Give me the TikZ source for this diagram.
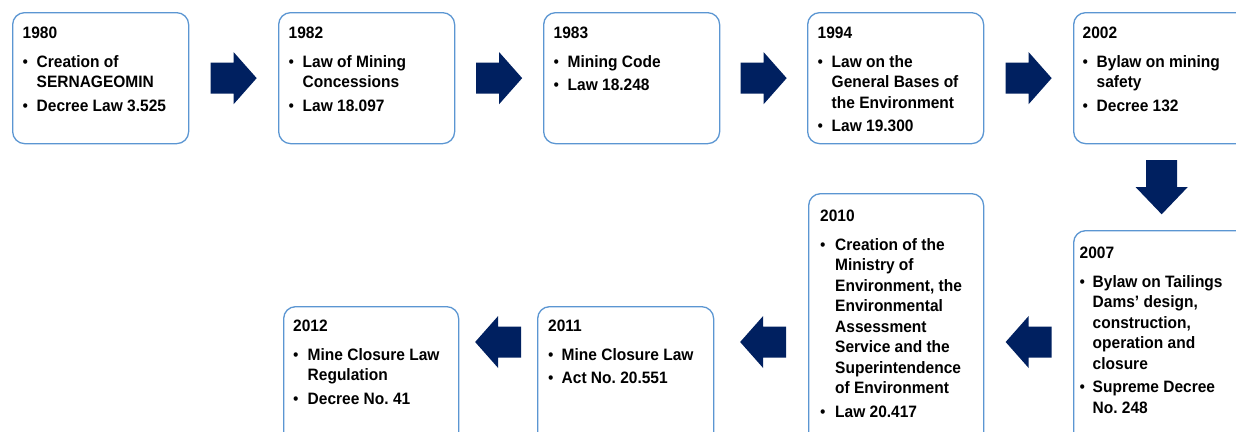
\documentclass[tikz,border=0pt]{standalone}
\usepackage{fontspec}
\setmainfont{Liberation Sans}[FakeStretch=0.94]
\usetikzlibrary{calc}
\frenchspacing

\definecolor{boxblue}{RGB}{91,150,210}
\definecolor{navy}{RGB}{0,32,96}

% one milestone: year on top, then bulleted lines
\newcommand{\yr}[1]{\multicolumn{2}{@{}l@{}}{#1}\\[8.5pt]}
\newcommand{\bul}{{\mdseries\textbullet}}
\newcommand{\gap}{\\[3pt]}

\tikzset{
  stage/.style={draw=boxblue, line width=1.3pt, rounded corners=12pt,
    fill=white, inner sep=0pt, anchor=north west, minimum width=176pt},
  stagetext/.style={anchor=base west, inner sep=0pt,
    font=\fontsize{16.5}{20.5}\selectfont\bfseries},
  blockarrow/.pic={
    \fill[navy] (-23,-15.5) -- (0,-15.5) -- (0,-26) -- (23,0)
      -- (0,26) -- (0,15.5) -- (-23,15.5) -- cycle;
  }
}

\begin{document}
\begin{tikzpicture}[x=1pt,y=-1pt]
\clip (0,0) rectangle (1236,431);
\fill[white] (0,0) rectangle (1236,431);

% top row
\node[stage, minimum height=131pt] (b1) at (12,12) {};
\node[stage, minimum height=131pt] (b2) at (278,12) {};
\node[stage, minimum height=131pt] (b3) at (543,12) {};
\node[stage, minimum height=131pt] (b4) at (807,12) {};
\node[stage, minimum height=131pt] (b5) at (1073,12) {};
% lower row (running off the bottom edge)
\node[stage, minimum height=240pt] (b6) at (1073,230) {};
\node[stage, minimum height=280pt, minimum width=175pt] (b7) at (808,193) {};
\node[stage, minimum height=160pt] (b8) at (537,306) {};
\node[stage, minimum height=160pt, minimum width=175pt] (b9) at (283,306) {};

\node[stagetext] (t1) at ([shift={(10.5,26)}]b1.north west) {%
\begin{tabular}[t]{@{}p{14pt}@{}l@{}}
\yr{1980}
\bul & Creation of\\ & SERNAGEOMIN\gap
\bul & Decree Law 3.525
\end{tabular}};

\node[stagetext] (t2) at ([shift={(10.5,26)}]b2.north west) {%
\begin{tabular}[t]{@{}p{14pt}@{}l@{}}
\yr{1982}
\bul & Law of Mining\\ & Concessions\gap
\bul & Law 18.097
\end{tabular}};

\node[stagetext] (t3) at ([shift={(10.5,26)}]b3.north west) {%
\begin{tabular}[t]{@{}p{14pt}@{}l@{}}
\yr{1983}
\bul & Mining Code\gap
\bul & Law 18.248
\end{tabular}};

\node[stagetext] (t4) at ([shift={(10.5,26)}]b4.north west) {%
\begin{tabular}[t]{@{}p{14pt}@{}l@{}}
\yr{1994}
\bul & Law on the\\ & General Bases of\\ & the Environment\gap
\bul & Law 19.300
\end{tabular}};

\node[stagetext] (t5) at ([shift={(9.5,26)}]b5.north west) {%
\begin{tabular}[t]{@{}p{14pt}@{}l@{}}
\yr{2002}
\bul & Bylaw on mining\\ & safety\gap
\bul & Decree 132
\end{tabular}};

\node[stagetext] (t6) at ([shift={(6.5,28)}]b6.north west) {%
\begin{tabular}[t]{@{}p{13pt}@{}l@{}}
\yr{2007}
\bul & Bylaw on Tailings\\ & Dams’ design,\\ & construction,\\ & operation and\\ & closure\gap
\bul & Supreme Decree\\ & No. 248
\end{tabular}};

\node[stagetext] (t7) at ([shift={(12,28)}]b7.north west) {%
\begin{tabular}[t]{@{}p{15pt}@{}l@{}}
\yr{2010}
\bul & Creation of the\\ & Ministry of\\ & Environment, the\\ & Environmental\\ & Assessment\\ & Service and the\\ & Superintendence\\ & of Environment\gap
\bul & Law 20.417
\end{tabular}};

\node[stagetext] (t8) at ([shift={(11,25)}]b8.north west) {%
\begin{tabular}[t]{@{}p{13.5pt}@{}l@{}}
\yr{2011}
\bul & Mine Closure Law\gap
\bul & Act No. 20.551
\end{tabular}};

\node[stagetext] (t9) at ([shift={(10,25)}]b9.north west) {%
\begin{tabular}[t]{@{}p{14.5pt}@{}l@{}}
\yr{2012}
\bul & Mine Closure Law\\ & Regulation\gap
\bul & Decree No. 41
\end{tabular}};

% block arrows between consecutive milestones
\pic (a1) at ($(b1.east)!0.5!(b2.west)$) {blockarrow};
\pic (a2) at ($(b2.east)!0.5!(b3.west)$) {blockarrow};
\pic (a3) at ($(b3.east)!0.5!(b4.west)$) {blockarrow};
\pic (a4) at ($(b4.east)!0.5!(b5.west)$) {blockarrow};
\pic[rotate=-90, xscale=1.18] (a5) at ($(b5.south)!0.5!(b6.north)$) {blockarrow};

\coordinate (m6) at ($(b7.east)!0.5!(b6.west)$);
\coordinate (m7) at ($(b8.east)!0.5!(b7.west)$);
\coordinate (m8) at ($(b9.east)!0.5!(b8.west)$);
\pic[rotate=180] (a6) at (m6 |- 0,342) {blockarrow};
\pic[rotate=180] (a7) at ([xshift=2pt]m7 |- 0,342) {blockarrow};
\pic[rotate=180] (a8) at (m8 |- 0,342) {blockarrow};
\end{tikzpicture}
\end{document}
